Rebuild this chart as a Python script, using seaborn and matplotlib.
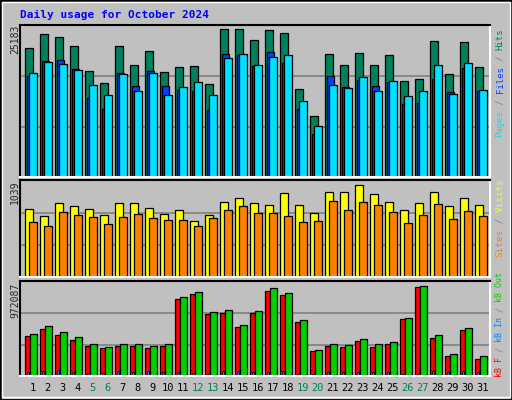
import numpy as np
import matplotlib
matplotlib.use("Agg")
import matplotlib.pyplot as plt
import seaborn as sns
from matplotlib.patches import Rectangle

sns.set_style("white")
plt.rcParams['font.family'] = ['DejaVu Sans Mono', 'DejaVu Sans']

days = list(range(1, 32))
weekend = [5, 6, 12, 13, 19, 20, 26, 27]
hits = [21450,23790,23290,21780,17600,15600,21780,18610,20950,17440,18270,18440,15430,24620,24620,22790,
        24460,23960,14600,10080,20450,18610,20610,18610,20280,15930,16270,22620,17100,22450,18270]
files = [16770,19280,19440,17940,13090,11250,17270,15100,17600,15100,14430,14260,11090,20450,20330,18500,
         20780,18940,11250,7080,16770,14930,16100,15100,15770,12090,12260,16270,14090,18110,14260]
pages = [17270,19110,18770,17770,15260,13590,17100,14260,17270,13590,14930,15770,13590,19780,20450,18610,
         19940,20280,12590,8410,15260,14760,16600,14260,15930,13430,14260,18610,13760,18940,14430]
visits = [736,660,801,768,736,671,801,801,747,682,725,606,671,812,855,801,779,909,779,693,920,920,996,898,
          812,725,801,920,768,855,779]
sites = [595,552,704,671,649,574,649,682,639,617,617,552,639,725,769,693,693,660,595,606,823,725,812,779,
         704,585,671,790,628,714,660]
kbf = [409300,481000,419600,368400,307000,286500,307000,307000,286500,307000,798200,849300,644700,654900,
       501400,654900,880000,839100,562800,255800,307000,296800,358200,296800,327500,593500,921000,388900,
       204700,470700,174000]
kbin = [41000,51000,61000,41000,31000,31000,51000,41000,51000,41000,41000,31000,20000,51000,51000,41000,
        41000,51000,20000,20000,41000,41000,41000,41000,41000,20000,20000,51000,41000,51000,41000]
kbout = [429800,511700,450300,399100,327500,296800,327500,327500,307000,327500,818600,869800,665100,685600,
         532100,675400,910700,859600,583300,266100,327500,317200,378600,327500,347900,603700,931200,419600,
         225100,491200,204700]
max_hits, max_visits, max_kb = 25183, 1039, 972087

BG = "#C0C0C0"
W, H = 512, 400
fig = plt.figure(figsize=(W/100, H/100), dpi=100, facecolor=BG)

def fx(x): return x / W
def fy(y): return 1 - y / H

fig.add_artist(Rectangle((0, 0), 1, 1, transform=fig.transFigure, fill=False, ec="black", lw=2))
fig.add_artist(Rectangle((fx(2), fy(397)), fx(508), 395/H, transform=fig.transFigure, fill=False, ec="white", lw=1))

fig.text(fx(20), fy(15), "Daily usage for October 2024", color="#0000FF", fontsize=8,
         fontweight="bold", va="center", ha="left")

x = np.array(days, dtype=float)
xl = (0.15, 31.48)

def mkax(top, bottom):
    ax = fig.add_axes([fx(20), fy(bottom), fx(470), (bottom - top)/H])
    ax.set_facecolor(BG)
    ax.set_xlim(*xl)
    for s in ["left", "top"]:
        ax.spines[s].set_color("black"); ax.spines[s].set_linewidth(1.5)
    for s in ["right", "bottom"]:
        ax.spines[s].set_color("white"); ax.spines[s].set_linewidth(1.5)
    ax.set_xticks([]); ax.set_yticks([])
    return ax

def grid(ax, m):
    for f in (1/3, 2/3):
        ax.axhline(m*f, color="#808080", lw=1.2, zorder=0)

kw = dict(align="edge", edgecolor="black", linewidth=0.9)

ax1 = mkax(25, 177)
ax1.set_ylim(0, max_hits*1.005)
grid(ax1, max_hits)
ax1.bar(x-0.5, hits, width=0.49, color="#00805C", **kw)
ax1.bar(x-0.37, files, width=0.47, color="#0040FF", **kw)
ax1.bar(x-0.24, pages, width=0.49, color="#00E0FF", **kw)

ax2 = mkax(180, 277)
ax2.set_ylim(0, max_visits*1.01)
grid(ax2, max_visits)
ax2.bar(x-0.5, visits, width=0.49, color="#FFFF00", **kw)
ax2.bar(x-0.24, sites, width=0.49, color="#FF8000", **kw)

ax3 = mkax(281, 376)
ax3.set_ylim(0, max_kb*1.01)
grid(ax3, max_kb)
ax3.bar(x-0.5, kbf, width=0.3, color="#FF0000", **kw)
ax3.bar(x-0.2, kbout, width=0.49, color="#00D000", **kw)
ax3.bar(x-0.38, kbin, width=0.1, color="#0080FF", edgecolor="black", linewidth=0.5, align="edge")

for d in days:
    fig.text(fx(20 + (d - xl[0]) * 15), fy(388), str(d), fontsize=7.5, ha="center", va="center",
             color="#00805C" if d in weekend else "black")

for txt, y in [("25183", 25), ("1039", 181), ("972087", 283)]:
    fig.text(fx(15), fy(y), txt, rotation=90, ha="center", va="top", fontsize=7)

def vlabel(bottom_y, parts, step):
    # step = char advance in px; mono advance = 0.602 em
    fs = step / 0.602 * 72 / 100
    y = bottom_y
    for s, c in parts:
        fig.text(fx(500), fy(y), s, rotation=90, ha="center", va="bottom", fontsize=fs, color=c)
        y -= step * len(s)

vlabel(137, [("Pages", "#00E0FF"), (" / ", "#808080"), ("Files", "#0040FF"), (" / ", "#808080"), ("Hits", "#00805C")], 5.45)
vlabel(257, [("Sites", "#FF8000"), (" / ", "#808080"), ("Visits", "#FFFF00")], 5.6)
vlabel(377, [("kB F", "#FF0000"), (" / ", "#808080"), ("kB In", "#0080FF"), (" / ", "#808080"), ("kB Out", "#00D000")], 5.0)

fig.savefig("out.png", dpi=100, facecolor=BG)
